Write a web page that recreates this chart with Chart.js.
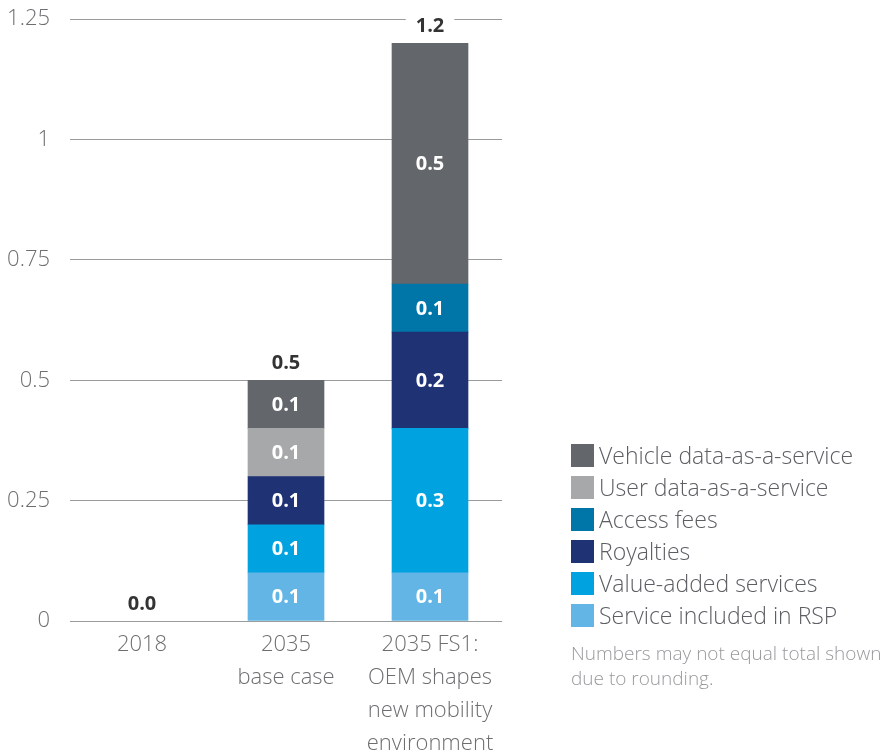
<!DOCTYPE html>
<html>
<head>
<meta charset="utf-8">
<script src="https://cdn.jsdelivr.net/npm/chart.js@4.4.0/dist/chart.umd.min.js"></script>
<style>
  html, body { margin: 0; padding: 0; background: #fff; overflow: hidden; }
  #wrap { position: relative; width: 890px; height: 754px; overflow: hidden; }
  #revenueChart { position: absolute; left: 0; top: -14px; }
  #legend { position: absolute; left: 571px; top: 439px; font-family: 'Open Sans', sans-serif; }
  .row { display: flex; align-items: center; height: 32px; font-size: 23px; color: #5b5e62; font-weight: 300; white-space: nowrap; }
  .sw { width: 23px; height: 23px; margin-right: 5px; }
  #note { margin-top: 10px; font-size: 19px; line-height: 25px; color: #97999b; font-weight: 300; white-space: nowrap; }
</style>
</head>
<body>
<div id="wrap">
  <canvas id="revenueChart" width="890" height="768"></canvas>
  <div id="legend"></div>
</div>
<script>
const categories = [['2018'], ['2035', 'base case'], ['2035 FS1:', 'OEM shapes', 'new mobility', 'environment']];
const yTickLabels = ['0', '0.25', '0.5', '0.75', '1', '1.25'];

// stacked bottom -> top
const serviceIncluded = [0, 0.1, 0.1];
const valueAdded = [0, 0.1, 0.3];
const royalties = [0, 0.1, 0.2];
const accessFees = [0, 0, 0.1];
const userData = [0, 0.1, 0];
const vehicleData = [0, 0.1, 0.5];

const series = [
  { label: 'Service included in RSP', data: serviceIncluded, color: '#62b5e5' },
  { label: 'Value-added services', data: valueAdded, color: '#00a3e0' },
  { label: 'Royalties', data: royalties, color: '#1e3274' },
  { label: 'Access fees', data: accessFees, color: '#0076a8' },
  { label: 'User data-as-a-service', data: userData, color: '#a7a8aa' },
  { label: 'Vehicle data-as-a-service', data: vehicleData, color: '#63666a' },
];

const FONT = "'Open Sans', sans-serif";

// segment values inside bars + totals above
const labelPlugin = {
  id: 'valueLabels',
  afterDatasetsDraw(chart) {
    const ctx = chart.ctx;
    ctx.save();
    ctx.textAlign = 'center';
    ctx.textBaseline = 'middle';
    ctx.font = 'bold 20px ' + FONT;
    chart.data.datasets.forEach((ds, i) => {
      const meta = chart.getDatasetMeta(i);
      meta.data.forEach((bar, j) => {
        const v = ds.data[j];
        if (!v) return;
        ctx.fillStyle = '#ffffff';
        ctx.fillText(v.toFixed(1), bar.x, (bar.y + bar.base) / 2 + 1);
      });
    });
    const lastMeta = chart.getDatasetMeta(chart.data.datasets.length - 1);
    categories.forEach((c, j) => {
      let total = 0;
      chart.data.datasets.forEach(ds => { total += ds.data[j]; });
      const bar = lastMeta.data[j];
      const y = chart.scales.y.getPixelForValue(total) - 17;
      const txt = total.toFixed(1);
      const w = ctx.measureText(txt).width;
      ctx.fillStyle = '#ffffff';
      ctx.fillRect(bar.x - w / 2 - 10, y - 11, w + 20, 22);
      ctx.fillStyle = '#333333';
      ctx.fillText(txt, bar.x, y);
    });
    ctx.restore();
  }
};

const chart = new Chart(document.getElementById('revenueChart').getContext('2d'), {
  type: 'bar',
  data: {
    labels: categories,
    datasets: series.map(s => ({
      label: s.label,
      data: s.data,
      backgroundColor: c => (c.raw ? s.color : 'rgba(0,0,0,0)'),
      borderWidth: 0,
      barThickness: 76,
    })),
  },
  options: {
    responsive: false,
    animation: false,
    layout: { padding: { top: 0, right: 388, left: 0, bottom: 0 } },
    plugins: {
      legend: { display: false },
      tooltip: { enabled: false },
    },
    scales: {
      x: {
        stacked: true,
        grid: { display: false, drawTicks: false },
        border: { display: false },
        ticks: { color: '#6d6e70', font: { family: FONT, size: 22, weight: 300, lineHeight: 1.5 }, padding: 7, maxRotation: 0 },
        afterFit(scale) { scale.height = 133; },
      },
      y: {
        stacked: true,
        min: 0,
        max: 1.25,
        grid: { color: '#9a9b9d', lineWidth: 1, drawTicks: false },
        border: { display: false },
        ticks: {
          stepSize: 0.25,
          color: '#6d6e70',
          padding: 20,
          font: { family: FONT, size: 22, weight: 300 },
          callback: (v, i) => yTickLabels[i],
        },
        afterFit(scale) { scale.width = 70; },
      },
    },
  },
  plugins: [labelPlugin],
});

// html legend, top to bottom
const legend = document.getElementById('legend');
series.slice().reverse().forEach(s => {
  const row = document.createElement('div');
  row.className = 'row';
  row.innerHTML = '<div class="sw" style="background:' + s.color + '"></div><span>' + s.label + '</span>';
  legend.appendChild(row);
});
const note = document.createElement('div');
note.id = 'note';
note.innerHTML = 'Numbers may not equal total shown<br>due to rounding.';
legend.appendChild(note);
</script>
</body>
</html>
